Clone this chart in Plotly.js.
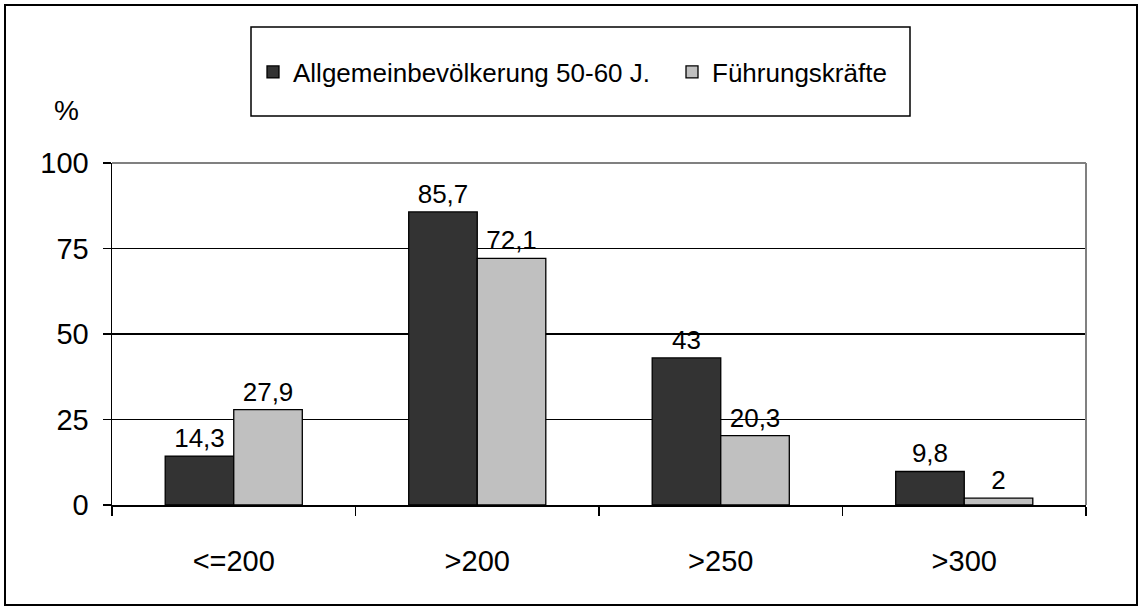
<!DOCTYPE html>
<html>
<head>
<meta charset="utf-8">
<script src="https://cdn.plot.ly/plotly-3.0.1.min.js"></script>
<style>
  html, body { margin: 0; padding: 0; background: #ffffff; }
  #chart { width: 1142px; height: 610px; }
</style>
</head>
<body>
<div id="chart"></div>
<script>
// Cholesterol groups (mg/dl) and share of each group in percent
const categories = ['<=200', '>200', '>250', '>300'];
const allgemein = [14.3, 85.7, 43, 9.8];
const fuehrung = [27.9, 72.1, 20.3, 2];
const seriesNames = ['Allgemeinbevölkerung 50-60 J.', 'Führungskräfte'];
const yTicks = [0, 25, 50, 75, 100];

const W = 1142, H = 610;
const M = { l: 112, r: 56, t: 163, b: 105 };
const plotW = W - M.l - M.r, plotH = H - M.t - M.b;
// pixel -> paper helpers
const px = x => (x - M.l) / plotW;
const py = y => (H - M.b - y) / plotH;

const font = 'Arial, "Liberation Sans", sans-serif';
const fmt = v => String(v).replace('.', ',');

const traces = [
  {
    type: 'bar', name: seriesNames[0], x: categories, y: allgemein,
    text: allgemein.map(fmt), textposition: 'outside', cliponaxis: false,
    textfont: { family: font, size: 26, color: '#000' },
    marker: { color: '#333333', line: { color: '#000', width: 1.3 } }
  },
  {
    type: 'bar', name: seriesNames[1], x: categories, y: fuehrung,
    text: fuehrung.map(fmt), textposition: 'outside', cliponaxis: false,
    textfont: { family: font, size: 26, color: '#000' },
    marker: { color: '#c0c0c0', line: { color: '#000', width: 1.3 } }
  }
];

const layout = {
  width: W, height: H,
  margin: M,
  paper_bgcolor: '#fff', plot_bgcolor: '#fff',
  font: { family: font, color: '#000', size: 26 },
  barmode: 'group', bargap: 0.437, bargroupgap: 0,
  showlegend: true,
  legend: {
    orientation: 'h', x: px(253), y: py(72), xanchor: 'left', yanchor: 'middle',
    font: { family: font, size: 26, color: '#000' }, entrywidth: 374,
    bgcolor: 'rgba(0,0,0,0)', borderwidth: 0, traceorder: 'normal'
  },
  xaxis: {
    type: 'category', tickson: 'boundaries', ticks: 'outside', ticklen: 9,
    tickcolor: '#000', tickwidth: 1.5,
    showline: true, linecolor: '#000', linewidth: 1.5,
    showgrid: false, tickfont: { family: font, size: 29, color: '#000' },
    ticklabelstandoff: 30
  },
  yaxis: {
    range: [0, 100], tickvals: yTicks, ticktext: yTicks.map(String),
    ticks: 'outside', ticklen: 8, tickcolor: '#000', tickwidth: 1.5,
    showline: true, linecolor: '#000', linewidth: 1.5,
    showgrid: true, gridcolor: '#000', gridwidth: 1.2, zeroline: false,
    tickfont: { family: font, size: 29, color: '#000' }, ticklabelstandoff: 8
  },
  shapes: [
    // outer frame
    { type: 'rect', xref: 'paper', yref: 'paper', x0: px(5), x1: px(1137), y0: py(605), y1: py(5),
      line: { color: '#000', width: 2 }, fillcolor: 'rgba(0,0,0,0)', layer: 'above' },
    // legend box
    { type: 'rect', xref: 'paper', yref: 'paper', x0: px(251), x1: px(910), y0: py(116), y1: py(27),
      line: { color: '#000', width: 1.5 }, fillcolor: 'rgba(0,0,0,0)', layer: 'above' },
    // grey top and right edges of the plot area
    { type: 'line', xref: 'paper', yref: 'paper', x0: 0, x1: 1, y0: 1, y1: 1,
      line: { color: '#808080', width: 2 }, layer: 'above' },
    { type: 'line', xref: 'paper', yref: 'paper', x0: 1, x1: 1, y0: 0, y1: 1,
      line: { color: '#808080', width: 2 }, layer: 'above' }
  ],
  annotations: [
    { text: '%', xref: 'paper', yref: 'paper', x: px(66), y: py(110), showarrow: false,
      xanchor: 'center', yanchor: 'middle', font: { family: font, size: 28, color: '#000' } }
  ]
};

Plotly.newPlot('chart', traces, layout, { displayModeBar: false, staticPlot: true });
</script>
</body>
</html>
